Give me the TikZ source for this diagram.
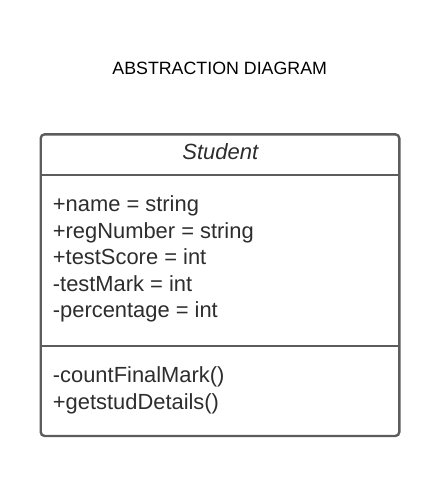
\documentclass[tikz,border=0pt]{standalone}
\usepackage{fontspec}
\setmainfont{Liberation Sans}
\definecolor{umlline}{RGB}{92,92,92}
\definecolor{umltext}{RGB}{45,45,45}
\usetikzlibrary{positioning}

\begin{document}
\begin{tikzpicture}[
  x=1pt, y=-1pt,
  titletext/.style={font=\fontsize{17.8}{20}\selectfont, text=black, inner sep=0pt, anchor=base},
  classname/.style={font=\fontsize{22}{26}\selectfont\itshape, text=umltext, inner sep=0pt, anchor=base},
  member/.style={font=\fontsize{21.9}{26}\selectfont, text=umltext, inner sep=0pt, anchor=base west},
  umlbox/.style={draw=umlline, line width=2.4pt, rounded corners=4pt},
  umlsep/.style={draw=umlline, line width=2.4pt}
]
\useasboundingbox (0,0) rectangle (440,477);

% Title
\node[titletext] (title) at (219.7,74.3) {ABSTRACTION DIAGRAM};

% Class frame
\draw[umlbox] (40.7,134.3) rectangle (399.3,436);
\coordinate (sepaw) at (40.7,175);
\coordinate (sepae) at (399.3,175);
\coordinate (sepbw) at (40.7,345.7);
\coordinate (sepbe) at (399.3,345.7);
\draw[umlsep] (sepaw) -- (sepae);
\draw[umlsep] (sepbw) -- (sepbe);

% Class name
\node[classname] (cname) at (220.3,159.3) {Student};

% Attributes
\foreach \txt [count=\i] in {+name = string, +regNumber = string, +testScore = int, -testMark = int, -percentage = int}
  \node[member] (attr\i) at (52.7,{211.7+26.5*(\i-1)}) {\txt};

% Operations
\foreach \txt [count=\i] in {-countFinalMark(), +getstudDetails()}
  \node[member] (op\i) at (52.7,{382.7+26.6*(\i-1)}) {\txt};
\end{tikzpicture}
\end{document}
